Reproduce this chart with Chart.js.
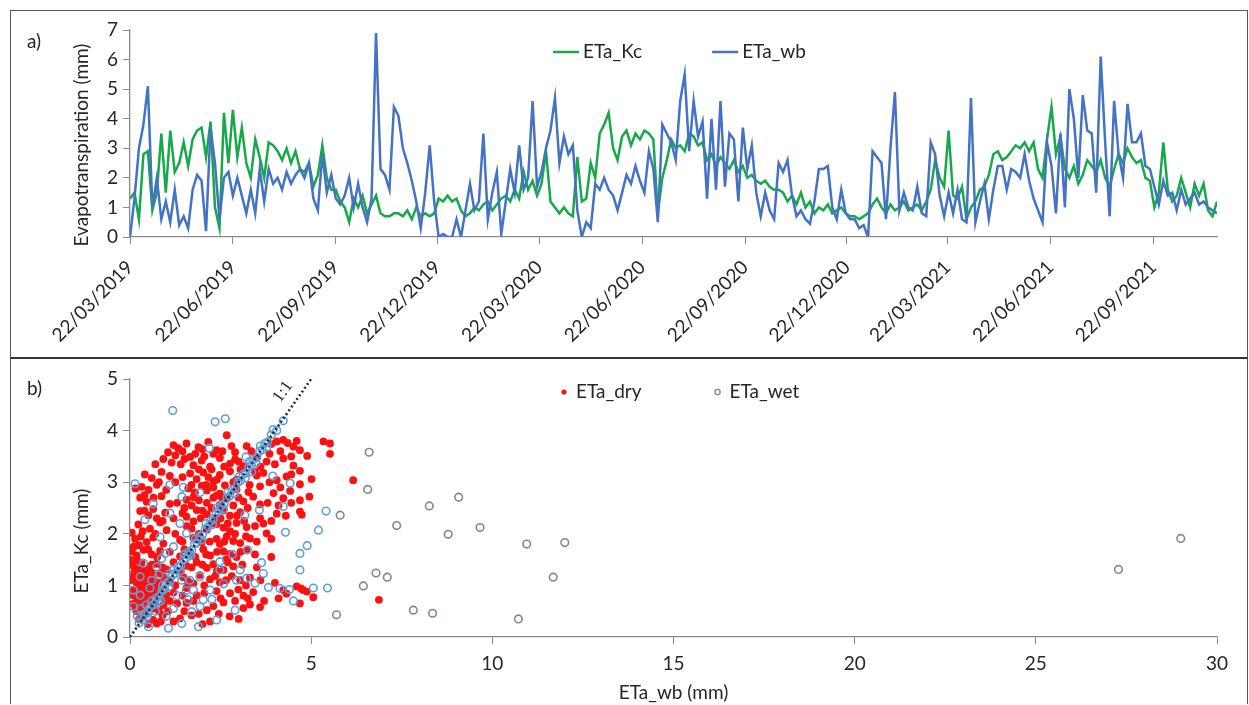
<!DOCTYPE html>
<html>
<head>
<meta charset="utf-8">
<script src="https://cdn.jsdelivr.net/npm/chart.js@4"></script>
<style>
  body { margin: 0; background: #fff; font-family: Lato, 'Noto Sans', sans-serif; color: #262626; }
  .panel { position: absolute; left: 10px; width: 1236px; border: 1px solid #595959; }
  #panelA { top: 10px; height: 346px; border-bottom: 2px solid #333; }
  #panelB { top: 359px; height: 345px; border-top: none; border-bottom: none; }
  canvas { display: block; }
  .tag { position: absolute; font-size: 19px; line-height: 1; }
  .ytitle { position: absolute; font-size: 19px; line-height: 1; white-space: nowrap;
            transform: translate(-50%, -50%) rotate(-90deg); }
</style>
</head>
<body>
<div class="panel" id="panelA"><canvas id="seriesChart" width="1236" height="346"></canvas></div>
<div class="panel" id="panelB"><canvas id="scatterChart" width="1236" height="345"></canvas></div>
<div class="tag" style="left:27px; top:31px;">a)</div>
<div class="tag" style="left:27px; top:378px;">b)</div>
<div class="ytitle" style="left:80px; top:145px;">Evapotranspiration (mm)</div>
<div class="ytitle" style="left:80px; top:541px;">ETa_Kc (mm)</div>
<script>
// ETa series, one value every 4 days starting at the first tick date
const STEP_DAYS = 4;
const dateTicks = ['22/03/2019', '22/06/2019', '22/09/2019', '22/12/2019', '22/03/2020', '22/06/2020',
  '22/09/2020', '22/12/2020', '22/03/2021', '22/06/2021', '22/09/2021'];

const etaKc = [
  1.3, 1.5, 0.6, 2.8, 2.9, 0.9, 1.5, 3.5, 1.5, 3.6, 2.2, 2.5, 3.2, 2.4, 3.3, 3.6, 3.7, 2.7, 3.9, 1.0,
  0.3, 4.2, 2.5, 4.3, 2.7, 3.7, 2.5, 2.0, 3.3, 2.7, 2.0, 3.2, 3.1, 2.9, 2.6, 3.0, 2.5, 2.9, 2.3, 2.2,
  2.5, 1.7, 2.1, 3.1, 2.0, 1.6, 1.6, 1.2, 1.0, 0.5, 1.3, 1.0, 1.4, 0.8, 1.1, 1.4, 0.8, 0.7, 0.7,
  0.8, 0.8, 0.7, 0.9, 0.6, 1.0, 0.7, 0.8, 0.7, 0.8, 1.3, 1.2, 1.4, 1.2, 1.3, 0.9, 0.7, 0.8, 1.0, 0.9,
  1.1, 1.2, 0.9, 1.1, 1.3, 1.4, 1.2, 1.6, 1.3, 2.2, 1.6, 1.9, 1.4, 1.8, 2.9, 1.2, 1.0, 0.8, 1.0, 0.8,
  0.7, 2.7, 1.2, 1.3, 2.5, 2.0, 3.5, 3.8, 4.2, 3.0, 2.6, 3.4, 3.6, 3.1, 3.5, 3.3, 3.6, 3.5, 3.3, 0.8,
  2.0, 2.6,
  3.3, 3.0, 3.1, 2.9, 3.5, 3.4, 3.1, 3.2, 2.6, 2.8, 2.4, 2.7, 2.5, 2.3, 2.6, 2.2, 2.4, 2.0, 2.1, 1.9,
  1.8, 1.9, 1.7, 1.6, 1.6, 1.5, 1.2, 1.4, 1.1, 1.5, 1.0, 1.2, 0.8, 1.0, 0.9, 1.1, 0.8, 0.9, 1.0, 0.8,
  0.7, 0.7, 0.6, 0.7, 0.8, 1.1, 1.3, 1.0, 0.8, 1.1, 0.9, 1.0, 1.2, 0.9, 1.0, 1.1, 0.9, 1.2, 1.6, 2.6,
  2.0, 1.7, 3.6,
  1.4, 1.3, 1.7, 0.6, 1.0, 1.2, 1.6, 1.7, 2.1, 2.8, 2.9, 2.6, 2.7, 2.9, 3.1, 3.0, 3.2, 2.9, 3.2, 2.3,
  2.0, 3.3, 4.4, 2.8, 3.4, 2.3, 2.0, 2.4, 1.8, 2.1, 2.6, 2.4, 2.2, 2.6, 2.0, 1.7, 2.3, 2.8, 2.5, 3.0,
  2.7, 2.5, 2.6, 2.0, 1.9, 1.0, 1.5, 3.2, 1.6, 1.2, 1.4, 2.0, 1.5, 1.0, 1.8, 1.4, 1.8, 0.9, 0.7, 1.2
];

const etaWb = [
  0.0, 1.3, 3.0, 3.8, 5.1, 1.0, 2.0, 0.6, 1.2, 0.5, 1.6, 0.4, 0.7, 0.3, 1.6, 2.1, 1.9, 0.2, 3.7, 2.5,
  0.6, 2.0, 2.2, 1.4, 2.0, 1.4, 0.8, 1.6, 0.8, 2.3, 1.2, 2.3, 1.8, 2.0, 1.6, 2.2, 1.8, 2.1, 2.3, 2.0,
  2.5, 1.3, 0.9, 2.8, 1.5, 2.1, 1.3, 1.1, 1.4, 2.0, 1.0, 1.8, 1.0, 0.5, 1.3, 6.9, 2.3, 2.1, 1.6,
  4.4, 4.1, 3.0, 2.5, 1.9, 1.2, 0.3, 1.5, 3.1, 1.2, 0.0, 0.1, 0.0, 0.0, 0.6, 0.0, 0.9, 1.8, 0.9, 1.2,
  3.5, 0.6, 1.5, 2.2, 0.1, 1.2, 2.3, 1.5, 3.1, 1.6, 2.0, 4.6, 1.7, 2.2, 3.0, 3.6, 4.7, 2.5, 3.4, 2.8,
  3.1, 0.9, 0.0, 0.5, 0.3, 1.8, 1.6, 2.0, 1.6, 1.4, 0.9, 1.5, 2.1, 1.8, 2.4, 1.9, 1.5, 2.9, 2.3, 0.5,
  3.8, 3.5,
  3.2, 2.6, 4.6, 5.5, 2.9, 4.6, 3.4, 3.9, 1.3, 4.0, 1.6, 4.6, 1.7, 3.5, 3.3, 1.2, 3.7, 2.3, 3.1, 1.5,
  0.7, 1.5, 0.9, 0.6, 2.5, 2.2, 2.6, 1.4, 0.7, 0.9, 0.6, 0.45, 1.2, 2.3, 2.3, 2.4, 1.0, 0.6, 1.6, 0.8,
  0.6, 0.6, 0.3, 0.4, 0.0, 2.9, 2.7, 2.5, 0.6, 3.0, 4.9, 0.9, 1.5, 1.0, 0.9, 1.7, 0.8, 0.7, 3.2, 2.8,
  1.4, 0.7, 1.5,
  0.8, 1.6, 0.6, 0.5, 4.7, 0.5, 1.2, 1.8, 0.6, 1.6, 2.4, 2.4, 1.6, 2.3, 2.2, 2.0, 2.8, 1.9, 1.3, 0.9,
  0.5, 3.2, 2.4, 0.8, 3.5, 1.0, 5.0, 4.0, 2.0, 4.8, 3.6, 3.5, 1.5, 6.1, 3.2, 0.7, 4.6, 2.8, 2.0, 4.5,
  3.2, 3.2, 3.5, 2.4, 2.3, 1.7, 1.1, 1.9, 1.4, 1.5, 0.9, 1.6, 1.1, 1.3, 1.5, 1.1, 1.2, 1.0, 0.9, 0.8
];

// ETa_Kc against ETa_wb, [ETa_wb, ETa_Kc] pairs in mm
const dryPoints = [
  [1.2, 3.72], [1.33, 3.66], [1.56, 3.75], [1.89, 3.68], [2.16, 3.78], [2.39, 3.62], [2.67, 3.91], [3.22, 3.70],
  [4.05, 3.79], [4.23, 3.82], [4.51, 3.69], [5.34, 3.79], [5.52, 3.75], [5.52, 3.55], [1.45, 3.60], [2.0, 3.64],
  [2.9, 3.58], [3.9, 3.74], [4.35, 3.76],
  [1.05, 3.58], [1.25, 3.52], [1.5, 3.45], [1.8, 3.55], [2.05, 3.5], [2.3, 3.55], [2.55, 3.6], [2.8, 3.7],
  [3.0, 3.4], [3.35, 3.6], [3.6, 3.3], [3.85, 3.55], [4.15, 3.6], [4.45, 3.5], [4.6, 3.8],
  [0.92, 3.45], [1.15, 3.38], [1.66, 3.49], [1.75, 3.33], [1.98, 3.42], [2.21, 3.30], [2.48, 3.47], [2.76, 3.36],
  [2.90, 3.44], [3.13, 3.31], [3.77, 3.40], [4.00, 3.35], [4.23, 3.46], [4.51, 3.32], [4.89, 3.51], [4.69, 3.62],
  [0.7, 3.35], [1.4, 3.35], [3.5, 3.48],
  [0.41, 3.15], [0.60, 3.08], [0.87, 3.20], [1.10, 3.12], [1.66, 3.17], [1.84, 3.06], [2.02, 3.19], [2.16, 3.10],
  [2.30, 3.02], [2.48, 3.14], [2.76, 3.21], [2.94, 3.05], [3.50, 3.13], [3.68, 3.18], [4.05, 3.04], [4.32, 3.11],
  [4.69, 3.22], [5.01, 3.06], [6.16, 3.04], [4.69, 2.96],
  [0.8, 3.0], [1.0, 2.85], [1.25, 3.0], [1.45, 3.1], [1.7, 2.95], [1.9, 3.25], [2.1, 2.95], [2.25, 3.25],
  [2.4, 3.05], [2.6, 3.3], [2.85, 3.0], [3.05, 3.25], [3.3, 2.95], [3.45, 3.2], [3.85, 3.0], [4.15, 2.9], [4.45, 3.15],
  [0.32, 2.91], [0.51, 2.85], [0.74, 2.95], [1.61, 2.88], [1.79, 2.80], [1.98, 2.93], [2.12, 2.84], [2.30, 2.90],
  [2.48, 2.78], [2.62, 2.94], [2.94, 2.86], [3.27, 2.81], [3.59, 2.92], [3.96, 2.79], [4.42, 2.83], [0.15, 2.88],
  [0.28, 2.70], [0.46, 2.62], [0.87, 2.73], [1.10, 2.58], [1.56, 2.66], [1.75, 2.71], [2.12, 2.60], [2.39, 2.74],
  [2.48, 2.56], [2.67, 2.68], [3.13, 2.63], [3.40, 2.72], [3.59, 2.57], [4.23, 2.69], [4.95, 2.72], [4.69, 2.65],
  [0.4, 2.75], [0.65, 2.7], [1.3, 2.6], [1.5, 2.5], [1.7, 2.55], [1.9, 2.65], [2.0, 2.45], [2.25, 2.5],
  [2.3, 2.7], [2.55, 2.7], [2.85, 2.55], [3.0, 2.7], [3.25, 2.5], [3.8, 2.6], [4.1, 2.55], [4.45, 2.6],
  [0.28, 2.44], [0.51, 2.36], [0.64, 2.48], [0.74, 2.30], [0.97, 2.41], [1.56, 2.33], [1.84, 2.46], [2.12, 2.38],
  [2.39, 2.31], [2.58, 2.45], [2.76, 2.35], [3.04, 2.42], [3.59, 2.30], [4.05, 2.39], [4.74, 2.37], [4.69, 2.43],
  [0.4, 2.45], [0.9, 2.25], [1.2, 2.3], [1.45, 2.4], [1.7, 2.1], [1.95, 2.3], [2.25, 2.2], [2.5, 2.3],
  [2.7, 2.2], [2.95, 2.35], [3.15, 2.25], [3.45, 2.15], [3.9, 2.25], [4.3, 2.35],
  [0.23, 2.18], [0.55, 2.10], [0.83, 2.22], [1.01, 2.07], [1.56, 2.15], [1.75, 2.24], [2.12, 2.08], [2.39, 2.19],
  [2.58, 2.12], [2.76, 2.05], [2.94, 2.21], [3.22, 2.13], [3.68, 2.20], [3.77, 2.01], [0.05, 2.02],
  [0.35, 2.05], [0.7, 2.0], [1.25, 2.0], [1.45, 1.85], [1.9, 2.0], [2.2, 1.85], [2.6, 1.85], [2.9, 2.0],
  [3.2, 1.95], [3.5, 1.85], [3.9, 1.9],
  [0.14, 1.90], [0.46, 1.84], [0.64, 1.93], [0.92, 1.81], [1.38, 1.88], [1.75, 1.92], [1.98, 1.83], [2.39, 1.90],
  [2.48, 1.80], [2.67, 1.95], [2.85, 1.86], [3.04, 1.82], [3.31, 1.91], [0.30, 1.95],
  [0.05, 1.66], [0.18, 1.58], [0.37, 1.69], [0.60, 1.60], [0.83, 1.67], [1.38, 1.56], [1.66, 1.64], [2.02, 1.70],
  [2.21, 1.58], [2.58, 1.66], [2.76, 1.61], [2.94, 1.55], [3.22, 1.68], [0.10, 1.75], [0.25, 1.78],
  [0.5, 1.7], [0.75, 1.55], [1.1, 1.65], [1.5, 1.7], [1.8, 1.55], [2.1, 1.6], [2.4, 1.65], [2.65, 1.5],
  [3.05, 1.65], [3.45, 1.6], [3.9, 1.55],
  [0.05, 1.40], [0.14, 1.33], [0.32, 1.44], [0.55, 1.36], [0.74, 1.42], [1.01, 1.31], [1.56, 1.38], [1.84, 1.45],
  [2.12, 1.34], [2.30, 1.41], [2.58, 1.30], [2.85, 1.37], [0.00, 1.50], [0.20, 1.48], [0.45, 1.30],
  [0.3, 1.3], [0.6, 1.4], [0.9, 1.35], [1.2, 1.45], [1.4, 1.28], [1.7, 1.35], [2.0, 1.4], [2.4, 1.28],
  [2.7, 1.45], [3.1, 1.4], [3.5, 1.35],
  [0.00, 1.10], [0.09, 1.17], [0.18, 1.05], [0.28, 1.22], [0.37, 1.12], [0.46, 1.19], [0.51, 1.06], [0.64, 1.14],
  [0.83, 1.23], [1.10, 1.08], [1.47, 1.16], [1.75, 1.04], [1.93, 1.20], [2.21, 1.12], [2.48, 1.06], [2.81, 1.18],
  [3.04, 1.10], [3.31, 1.15], [4.60, 0.98], [0.12, 1.25], [0.22, 1.15], [0.40, 1.02], [0.60, 1.25], [0.70, 1.00],
  [0.3, 1.0], [0.55, 1.1], [0.78, 1.05], [0.95, 1.15], [1.25, 1.0], [1.6, 1.08], [2.05, 1.0], [2.35, 1.18],
  [2.65, 1.1], [3.2, 1.0], [3.6, 1.1], [4.0, 1.05],
  [0.05, 0.91], [0.14, 0.85], [0.23, 0.95], [0.32, 0.82], [0.41, 0.88], [0.55, 0.93], [0.69, 0.84], [0.83, 0.90],
  [1.20, 0.86], [1.56, 0.95], [1.84, 0.81], [2.39, 0.89], [2.76, 0.85], [2.99, 0.92], [3.13, 0.80], [3.40, 0.87],
  [4.23, 0.91], [4.32, 0.84], [4.78, 0.91], [4.72, 0.94], [4.88, 0.88], [0.10, 0.80], [0.28, 0.90], [0.50, 0.80],
  [0.75, 0.95], [1.00, 0.82],
  [0.2, 0.7], [0.35, 0.6], [0.6, 0.85], [0.7, 0.65], [0.95, 0.75], [1.3, 0.65], [1.45, 0.8], [1.75, 0.7],
  [2.05, 0.85], [2.5, 0.75], [2.9, 0.7], [3.25, 0.75], [3.7, 0.7], [4.1, 0.75],
  [0.09, 0.64], [0.28, 0.58], [0.46, 0.68], [0.64, 0.55], [0.92, 0.62], [1.56, 0.66], [2.12, 0.52], [2.30, 0.60],
  [2.58, 0.67], [3.13, 0.56], [3.31, 0.63], [3.59, 0.58], [5.06, 0.77], [4.69, 0.65], [6.87, 0.72], [0.18, 0.50],
  [0.38, 0.72], [0.55, 0.70], [0.80, 0.50], [1.10, 0.70],
  [0.37, 0.39], [0.64, 0.33], [0.74, 0.26], [1.38, 0.36], [2.21, 0.30], [0.50, 0.25], [0.90, 0.42], [1.20, 0.30],
  [1.70, 0.42], [2.00, 0.25], [0.25, 0.35], [0.45, 0.45], [0.85, 0.3], [1.05, 0.5], [1.5, 0.5], [1.9, 0.45],
  [2.45, 0.45], [2.75, 0.4], [3.0, 0.35], [0.15, 0.55]
];

const wetPoints = [
  [1.18, 4.39], [2.35, 4.17], [2.63, 4.23], [4.23, 4.19], [0.14, 2.97], [1.10, 2.95], [1.47, 2.90], [1.93, 2.80],
  [1.43, 2.72], [0.64, 2.58], [1.10, 2.40], [0.41, 2.27], [1.38, 2.20], [0.83, 1.94], [1.56, 2.01], [1.20, 1.75],
  [0.87, 1.52], [1.66, 1.62], [2.19, 3.66], [3.20, 3.49], [3.36, 3.20], [3.94, 3.12], [4.42, 2.98], [4.23, 2.53],
  [3.57, 2.46], [3.17, 2.36], [4.29, 2.03], [3.24, 1.69], [3.63, 1.44], [4.69, 1.62], [4.69, 1.30], [2.83, 1.60],
  [2.48, 1.30], [3.04, 1.30], [2.48, 1.46], [2.94, 1.10], [2.58, 1.03], [3.22, 1.14], [3.45, 1.04], [3.82, 0.96],
  [4.14, 0.94], [4.40, 0.92], [4.51, 0.70], [5.06, 0.95], [3.68, 1.23], [2.26, 0.73], [1.93, 0.59], [1.70, 0.49],
  [1.06, 0.17], [0.51, 0.20], [1.43, 0.26], [1.89, 0.20], [2.39, 0.33], [2.90, 0.52], [0.09, 0.59], [0.28, 0.81],
  [0.92, 0.91], [1.10, 1.23], [0.74, 1.36], [0.60, 1.10], [0.37, 1.43], [1.43, 1.10], [1.75, 0.91], [2.02, 0.72],
  [2.21, 0.91], [1.61, 0.72], [1.93, 1.17], [1.33, 1.36], [0.97, 1.62], [0.09, 0.91], [0.28, 1.17], [5.41, 2.44],
  [5.20, 2.07], [4.89, 1.77], [0.45, 0.62], [0.70, 0.50], [0.85, 0.70], [1.20, 0.55], [1.30, 0.80], [0.55, 0.95],
  [1.00, 0.40], [0.30, 0.55], [1.55, 0.90], [1.65, 1.10], [0.20, 0.40], [0.80, 1.20],
  [0.25, 0.27], [0.35, 0.33], [0.42, 0.45], [0.50, 0.48], [0.58, 0.60], [0.65, 0.63], [0.72, 0.75], [0.80, 0.78],
  [0.88, 0.90], [0.95, 0.93], [1.02, 1.05], [1.10, 1.08], [1.18, 1.20], [1.25, 1.23], [1.32, 1.35], [1.40, 1.38],
  [1.48, 1.50], [1.55, 1.53], [1.62, 1.65], [1.70, 1.68], [1.78, 1.80], [1.85, 1.83], [1.92, 1.95], [2.00, 1.98],
  [2.08, 2.10], [2.15, 2.13], [2.22, 2.25], [2.30, 2.28], [2.38, 2.40], [2.45, 2.43], [2.52, 2.55], [2.60, 2.58],
  [2.68, 2.70], [2.75, 2.73], [2.82, 2.85], [2.90, 2.88], [2.98, 3.00], [3.05, 3.03], [3.12, 3.15], [3.20, 3.18],
  [3.28, 3.30], [3.35, 3.33], [3.42, 3.45], [3.50, 3.48], [3.58, 3.60], [3.65, 3.63], [3.72, 3.75], [3.80, 3.78],
  [3.90, 3.92],
  [0.30, 0.38], [0.48, 0.40], [0.60, 0.70], [0.78, 0.68], [0.90, 1.00], [1.08, 0.98], [1.20, 1.30], [1.38, 1.28],
  [1.50, 1.60], [1.68, 1.58], [1.80, 1.90], [1.98, 1.88], [2.10, 2.20], [2.28, 2.18], [2.40, 2.50], [2.58, 2.48],
  [2.70, 2.80], [2.88, 2.78], [3.00, 3.10], [3.18, 3.08], [3.30, 3.40], [3.48, 3.38], [3.60, 3.70], [3.78, 3.68],
  [3.95, 4.02], [4.05, 4.00],
  [5.80, 2.36], [6.60, 3.58], [6.56, 2.86], [8.26, 2.54], [9.07, 2.71], [7.36, 2.16], [8.78, 1.99], [9.66, 2.12],
  [10.95, 1.80], [12.00, 1.83], [11.68, 1.16], [6.79, 1.24], [7.10, 1.16], [6.44, 0.99], [5.45, 0.95], [5.70, 0.43],
  [7.82, 0.52], [8.35, 0.46], [10.72, 0.35], [27.28, 1.31], [29.00, 1.91]
];

// 1:1 reference line end points
const oneToOne = [0, 5];

const GREEN = '#17a84b';
const BLUE = '#4472c4';
const RED = '#ff1010';
const WET_BLUE = '#5f9fd8';
const WET_GREY = '#7f8a8a';
const NAVY = '#1c2a4f';
const AXIS = '#8a8a8a';
const TEXT = '#262626';
const FONT = 'Lato, "Noto Sans", sans-serif';

const DAY_MS = 86400000;
function parseDMY(s) {
  const [d, m, y] = s.split('/').map(Number);
  return Date.UTC(y, m - 1, d);
}
const t0 = parseDMY(dateTicks[0]);
const tickDays = dateTicks.map(s => Math.round((parseDMY(s) - t0) / DAY_MS));
const lastDay = (etaKc.length - 1) * STEP_DAYS;

// legend drawn inside the plot area, keyed off the chart area corner
const inlineLegend = {
  id: 'inlineLegend',
  afterDatasetsDraw(chart, args, opts) {
    const { ctx, chartArea } = chart;
    let x = chartArea.left + opts.left;
    const y = chartArea.top + opts.top;
    ctx.save();
    ctx.font = '19px ' + FONT;
    ctx.textBaseline = 'middle';
    chart.data.datasets.forEach(ds => {
      if (!opts.labels.includes(ds.label)) return;
      if (opts.kind === 'line') {
        ctx.strokeStyle = ds.borderColor;
        ctx.lineWidth = ds.borderWidth;
        ctx.beginPath();
        ctx.moveTo(x, y);
        ctx.lineTo(x + 26, y);
        ctx.stroke();
        x += 30;
      } else {
        ctx.beginPath();
        ctx.arc(x, y, 2.6, 0, Math.PI * 2);
        if (ds.legendFilled) {
          ctx.fillStyle = ds.legendColor;
          ctx.fill();
        } else {
          ctx.strokeStyle = ds.legendColor;
          ctx.lineWidth = 1.3;
          ctx.stroke();
        }
        x += 12;
      }
      ctx.fillStyle = TEXT;
      ctx.fillText(ds.label, x, y);
      x += ctx.measureText(ds.label).width + opts.gap;
    });
    ctx.restore();
  }
};

// "1:1" written along the reference line
const diagLabel = {
  id: 'diagLabel',
  afterDatasetsDraw(chart, args, opts) {
    const { ctx, scales: { x, y } } = chart;
    const ang = Math.atan2(y.getPixelForValue(oneToOne[1]) - y.getPixelForValue(oneToOne[0]),
      x.getPixelForValue(oneToOne[1]) - x.getPixelForValue(oneToOne[0]));
    ctx.save();
    ctx.translate(x.getPixelForValue(opts.at[0]), y.getPixelForValue(opts.at[1]));
    ctx.rotate(ang);
    ctx.font = '17px "Liberation Serif", serif';
    ctx.fillStyle = TEXT;
    ctx.textAlign = 'center';
    ctx.textBaseline = 'middle';
    ctx.fillText(opts.text, 0, 0);
    ctx.restore();
  }
};

const tickFont = { family: FONT, size: 19 };
const axisGrid = { display: true, drawOnChartArea: false, drawTicks: true, tickLength: 7, color: AXIS };
const axisBorder = { display: true, color: AXIS, width: 1.3 };

new Chart(document.getElementById('seriesChart'), {
  type: 'line',
  data: {
    datasets: [
      {
        label: 'ETa_Kc',
        data: etaKc.map((v, i) => ({ x: i * STEP_DAYS, y: v })),
        borderColor: GREEN, borderWidth: 2.5, pointRadius: 0, tension: 0, order: 2
      },
      {
        label: 'ETa_wb',
        data: etaWb.map((v, i) => ({ x: i * STEP_DAYS, y: v })),
        borderColor: BLUE, borderWidth: 2.5, pointRadius: 0, tension: 0, order: 1
      }
    ]
  },
  options: {
    responsive: false,
    animation: false,
    devicePixelRatio: 1,
    layout: { padding: { left: 58, top: 19, right: 30, bottom: 0 } },
    plugins: {
      legend: { display: false },
      tooltip: { enabled: false },
      inlineLegend: { kind: 'line', labels: ['ETa_Kc', 'ETa_wb'], left: 423, top: 22, gap: 70 }
    },
    scales: {
      x: {
        type: 'linear', min: 0, max: lastDay,
        afterBuildTicks: s => { s.ticks = tickDays.map(v => ({ value: v })); },
        afterFit: s => { s.height = 120; },
        ticks: {
          autoSkip: false, minRotation: 45, maxRotation: 45, padding: 12,
          color: TEXT, font: tickFont,
          callback: v => dateTicks[tickDays.indexOf(v)]
        },
        grid: axisGrid, border: axisBorder
      },
      y: {
        min: 0, max: 7,
        afterFit: s => { s.width = 61; },
        ticks: { stepSize: 1, padding: 5, color: TEXT, font: tickFont },
        grid: axisGrid, border: axisBorder
      }
    }
  },
  plugins: [inlineLegend]
});

new Chart(document.getElementById('scatterChart'), {
  type: 'scatter',
  data: {
    datasets: [
      {
        label: 'ETa_dry',
        data: dryPoints.map(p => ({ x: p[0], y: p[1] })),
        backgroundColor: RED, borderColor: RED, borderWidth: 0, pointRadius: 3.9,
        legendColor: RED, legendFilled: true, order: 2
      },
      {
        label: 'ETa_wet',
        data: wetPoints.map(p => ({ x: p[0], y: p[1] })),
        backgroundColor: 'rgba(255,255,255,0)',
        borderColor: ctx => (ctx.raw && ctx.raw.x > 5.5 ? WET_GREY : WET_BLUE),
        borderWidth: 1.6, pointRadius: 3.8,
        legendColor: WET_GREY, legendFilled: false, order: 1
      },
      {
        label: '1:1',
        data: oneToOne.map(v => ({ x: v, y: v })),
        showLine: true, borderColor: NAVY, borderWidth: 2.6, borderDash: [2, 2.6],
        pointRadius: 0, order: 0
      }
    ]
  },
  options: {
    responsive: false,
    animation: false,
    devicePixelRatio: 1,
    layout: { padding: { left: 58, top: 20, right: 30, bottom: 0 } },
    plugins: {
      legend: { display: false },
      tooltip: { enabled: false },
      inlineLegend: { kind: 'point', labels: ['ETa_dry', 'ETa_wet'], left: 434, top: 13, gap: 76 },
      diagLabel: { text: '1:1', at: [4.22, 4.75] }
    },
    scales: {
      x: {
        min: 0, max: 30,
        afterFit: s => { s.height = 67; },
        ticks: { stepSize: 5, padding: 8, color: TEXT, font: tickFont },
        title: { display: true, text: 'ETa_wb (mm)', color: TEXT, font: tickFont, padding: { top: 0, bottom: 0 } },
        grid: axisGrid, border: axisBorder
      },
      y: {
        min: 0, max: 5,
        afterFit: s => { s.width = 61; },
        ticks: { stepSize: 1, padding: 5, color: TEXT, font: tickFont },
        grid: axisGrid, border: axisBorder
      }
    }
  },
  plugins: [inlineLegend, diagLabel]
});
</script>
</body>
</html>
